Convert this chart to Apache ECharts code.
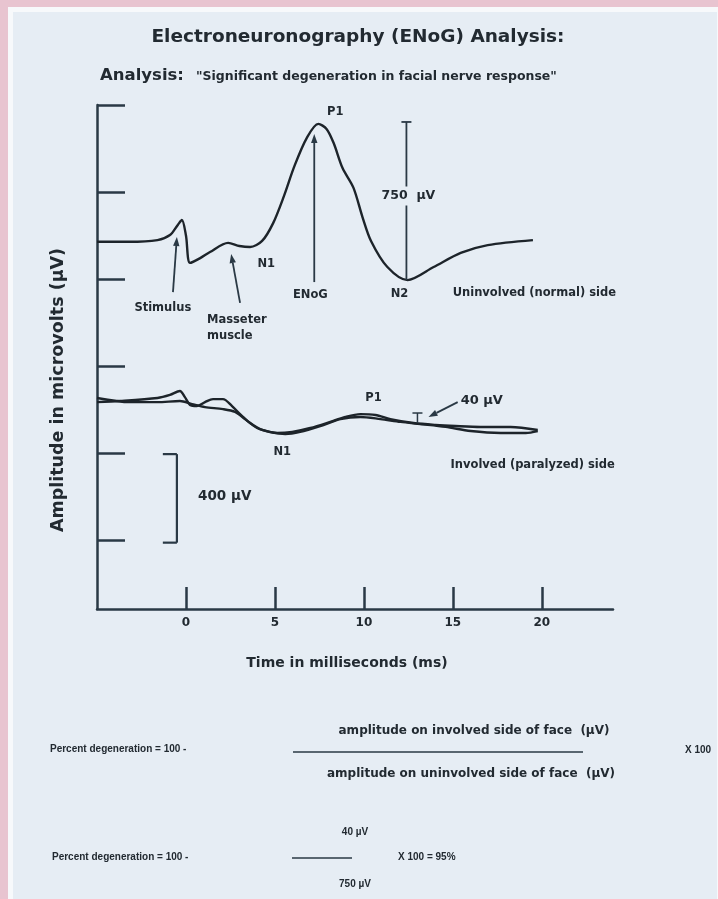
<!DOCTYPE html>
<html><head><meta charset="utf-8">
<script src="https://cdn.jsdelivr.net/npm/echarts@6/dist/echarts.min.js"></script>
<style>
html,body{margin:0;padding:0;background:#e8c4d0;width:718px;height:899px;overflow:hidden;}
#frame{position:absolute;left:8px;top:7px;right:0;bottom:0;background:#f7f9fb;}
#panel{position:absolute;left:13px;top:12px;right:1px;bottom:0;background:#e6edf4;}
#c{position:absolute;left:0;top:0;width:718px;height:899px;}
</style>
</head><body><div id="frame"></div><div id="panel"></div><div id="c"></div>
<script>
// ---- data (time in ms, amplitude in microvolts) ----
const timeTicks = [0, 5, 10, 15, 20];
const ampTicks = [0, 400, 800, 1200, 1600, 2000];

const normalSide = [
  [-5.0,1371],[-3.2,1371],[-1.6,1379],[-0.9,1402],[-0.45,1450],[-0.23,1471],[0.0,1400],
  [0.23,1274],[0.8,1296],[1.35,1324],[2.37,1366],[3.0,1352],[3.6,1347],[4.28,1375],[4.9,1457],
  [5.5,1580],[6.1,1720],[6.8,1850],[7.44,1913],[7.9,1890],[8.3,1825],[8.8,1710],
  [9.41,1620],[9.92,1485],[10.4,1375],[11.32,1255],[12.45,1195],[13.92,1255],
  [15.44,1320],[16.96,1356],[19.5,1379]
];
const involvedA = [
  [-5.0,634],[-3.7,639],[-1.6,653],[-0.9,667],[-0.34,685],[-0.06,657],[0.23,621],[0.62,616],
  [1.07,634],[1.52,648],[2.08,648],[2.59,616],[3.04,579],[3.61,538],[4.28,506],[5.13,492],
  [5.97,497],[6.99,515],[8.11,543],[8.96,566],[9.8,579],[10.65,575],[11.49,556],[12.79,538],
  [14.03,529],[15.15,524],[16.56,520],[18.25,520],[19.77,506]
];
const involvedB = [
  [-5.0,653],[-3.15,634],[-1.6,634],[-0.34,639],[0.34,625],[1.07,611],[2.08,602],[2.76,589],
  [3.32,556],[4.0,515],[4.73,497],[5.58,487],[6.42,497],[7.55,524],[8.68,556],[9.8,566],
  [10.93,556],[12.06,543],[13.18,533],[14.59,520],[16.0,501],[17.69,492],[19.1,492],[19.77,501]
];

// annotation labels: [text, time, amplitude, align]
const waveLabels = [
  ['P1', 8.39, 1968, 'center'], ['N1', 4.51, 1269, 'center'], ['N2', 12.0, 1131, 'center'],
  ['ENoG', 6.99, 1126, 'center'], ['Stimulus', -1.3, 1067, 'center'],
  ['Masseter', 1.18, 1011, 'left'], ['muscle', 1.18, 938, 'left'],
  ['Uninvolved (normal) side', 14.99, 1136, 'left'],
  ['P1', 10.54, 653, 'center'], ['N1', 5.41, 405, 'center'],
  ['Involved (paralyzed) side', 14.87, 345, 'left']
];
// arrows: [fromTime, fromAmp, toTime, toAmp]
const arrows = [
  [-0.73, 1140, -0.51, 1393],
  [3.04, 1090, 2.54, 1315],
  [7.21, 1186, 7.21, 1867],
  [15.27, 634, 13.63, 566]
];
const normalAmplitude = {label: '750  \u00b5V', time: 12.39, top: 1922, bottom: 1195, labelAmp: 1582};
const involvedAmplitude = {label: '40 \u00b5V', time: 13.01, top: 584, bottom: 538, labelTime: 15.44, labelAmp: 639};
const scaleBar = {label: '400 \u00b5V', time: -0.51, capTime: -1.3, top: 395, bottom: -12, labelTime: 0.68, labelAmp: 198};

const INK = '#1d242a';
const AXIS = '#2a3945';
const TXT = '#222a31';
const FONT = '"DejaVu Sans", Verdana, sans-serif';
const FONT2 = '"Liberation Sans", Arial, sans-serif';

const chart = echarts.init(document.getElementById('c'), null, {renderer: 'canvas', width: 718, height: 899});

const lineSeries = (name, data) => ({
  name, type: 'line', data, smooth: 0.3, showSymbol: false, symbol: 'none',
  lineStyle: {color: INK, width: 2.4}, z: 3
});

chart.setOption({
  backgroundColor: 'transparent',
  animation: false,
  grid: {left: 97, top: 105, right: 105, bottom: 290, containLabel: false, outerBoundsMode: 'none'},
  xAxis: {
    type: 'value', min: -5, max: 24, splitLine: {show: false},
    axisLine: {onZero: false, lineStyle: {color: AXIS, width: 2.5}},
    axisTick: {show: true, inside: true, length: 22, customValues: timeTicks, lineStyle: {color: AXIS, width: 2.5}},
    axisLabel: {customValues: timeTicks, color: TXT, fontWeight: 'bold', fontSize: 12, margin: 8, fontFamily: FONT}
  },
  yAxis: {
    type: 'value', min: -317, max: 2000, splitLine: {show: false},
    axisLine: {show: true, onZero: false, lineStyle: {color: AXIS, width: 2.5}},
    axisTick: {show: true, inside: true, length: 28, customValues: ampTicks, lineStyle: {color: AXIS, width: 2.5}},
    axisLabel: {show: false}
  },
  series: [
    lineSeries('Uninvolved (normal) side', normalSide),
    lineSeries('Involved A', involvedA),
    lineSeries('Involved B', involvedB)
  ]
});

const P = (t, v) => chart.convertToPixel({gridIndex: 0}, [t, v]);
const els = [];
const txt = (x, y, s, font, align, extra) => els.push({type: 'text', x, y, z: 10,
  style: Object.assign({text: s, font, fill: TXT, align: align || 'center', verticalAlign: 'middle'}, extra || {})});
const seg = (a, b, w) => els.push({type: 'line', z: 5, shape: {x1: a[0], y1: a[1], x2: b[0], y2: b[1]},
  style: {stroke: AXIS, lineWidth: w || 1.8}});
const arrow = (a, b) => {
  const dx = b[0] - a[0], dy = b[1] - a[1], L = Math.hypot(dx, dy), ux = dx / L, uy = dy / L;
  const hl = 9, hw = 3.2;
  const base = [b[0] - ux * hl, b[1] - uy * hl];
  seg(a, base, 1.8);
  els.push({type: 'polygon', z: 5, shape: {points: [b, [base[0] - uy * hw, base[1] + ux * hw], [base[0] + uy * hw, base[1] - ux * hw]]},
    style: {fill: AXIS}});
};

// wave labels
const smallFont = 'bold 11.5px ' + FONT;
waveLabels.forEach(([s, t, v, al]) => { const p = P(t, v); txt(p[0], p[1], s, smallFont, al); });
arrows.forEach(([t1, v1, t2, v2]) => arrow(P(t1, v1), P(t2, v2)));

// 750 uV bar
{
  const a = P(normalAmplitude.time, normalAmplitude.top), b = P(normalAmplitude.time, normalAmplitude.bottom);
  seg(a, b, 1.8);
  seg([a[0] - 5, a[1]], [a[0] + 5, a[1]], 1.8);
  const l = P(normalAmplitude.time, normalAmplitude.labelAmp);
  txt(l[0] + 2, l[1], normalAmplitude.label, 'bold 12.5px ' + FONT, 'center',
    {backgroundColor: '#e6edf4', padding: [3, 2]});
}
// 40 uV marker
{
  const a = P(involvedAmplitude.time, involvedAmplitude.top), b = P(involvedAmplitude.time, involvedAmplitude.bottom);
  seg(a, b, 1.5);
  seg([a[0] - 5, a[1]], [a[0] + 5, a[1]], 1.5);
  const l = P(involvedAmplitude.labelTime, involvedAmplitude.labelAmp);
  txt(l[0], l[1], involvedAmplitude.label, 'bold 13px ' + FONT, 'left');
}
// 400 uV scale bracket
{
  const a = P(scaleBar.time, scaleBar.top), b = P(scaleBar.time, scaleBar.bottom);
  const ca = P(scaleBar.capTime, scaleBar.top), cb = P(scaleBar.capTime, scaleBar.bottom);
  seg(a, b, 2.2); seg(ca, a, 2.2); seg(cb, b, 2.2);
  const l = P(scaleBar.labelTime, scaleBar.labelAmp);
  txt(l[0], l[1], scaleBar.label, 'bold 13.5px ' + FONT, 'left');
}

// titles and axis names
txt(358, 37, 'Electroneuronography (ENoG) Analysis:', 'bold 18.5px ' + FONT, 'center');
txt(100, 76, 'Analysis:', 'bold 16.5px ' + FONT, 'left');
txt(196, 77, '"Significant degeneration in facial nerve response"', 'bold 12.5px ' + FONT, 'left');
els.push({type: 'text', x: 58, y: 390, rotation: Math.PI / 2, z: 10,
  style: {text: 'Amplitude in microvolts (\u00b5V)', font: 'bold 17.5px ' + FONT, fill: TXT, align: 'center', verticalAlign: 'middle'}});
txt(347, 663, 'Time in milliseconds (ms)', 'bold 14px ' + FONT, 'center');

// formula
const fF = 'bold 12px ' + FONT;
const fS = 'bold 10px ' + FONT2;
txt(50, 749, 'Percent degeneration = 100 -', fS, 'left');
txt(474, 731, 'amplitude on involved side of face  (\u00b5V)', fF, 'center');
els.push({type: 'line', z: 5, shape: {x1: 293, y1: 752, x2: 583, y2: 752}, style: {stroke: AXIS, lineWidth: 1.5}});
txt(471, 774, 'amplitude on uninvolved side of face  (\u00b5V)', fF, 'center');
txt(685, 750, 'X 100', fS, 'left');
txt(355, 832, '40 \u00b5V', fS, 'center');
txt(52, 857, 'Percent degeneration = 100 -', fS, 'left');
els.push({type: 'line', z: 5, shape: {x1: 292, y1: 858, x2: 352, y2: 858}, style: {stroke: AXIS, lineWidth: 1.5}});
txt(398, 857, 'X 100 = 95%', fS, 'left');
txt(355, 884, '750 \u00b5V', fS, 'center');

chart.setOption({graphic: {elements: els}});
</script>
</body></html>
